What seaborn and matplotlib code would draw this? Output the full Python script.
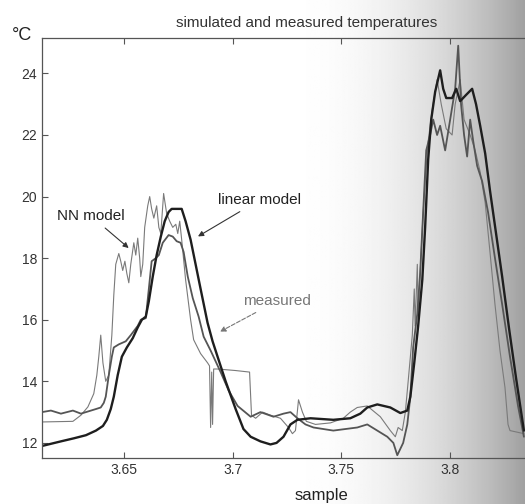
import numpy as np
import pandas as pd
import seaborn as sns
import matplotlib.pyplot as plt

# sample axis (x 10^4) and temperatures
linear_x = [3.6124, 3.6211, 3.6271, 3.6326, 3.6372, 3.6404, 3.6422, 3.6440, 3.6454, 3.6472,
            3.6491, 3.6514, 3.6541, 3.6564, 3.6583, 3.6601, 3.6615, 3.6633, 3.6651, 3.6670,
            3.6688, 3.6706, 3.6720, 3.6766, 3.6784, 3.6807, 3.6830, 3.6853, 3.6885, 3.6908,
            3.6931, 3.6968, 3.7014, 3.7050, 3.7083, 3.7128, 3.7174, 3.7202, 3.7234, 3.7266,
            3.7298, 3.7358, 3.7463, 3.7541, 3.7587, 3.7619, 3.7665, 3.7725, 3.7771, 3.7803,
            3.7817, 3.7835, 3.7853, 3.7872, 3.7885, 3.7899, 3.7913, 3.7931, 3.7954, 3.7968,
            3.7982, 3.8009, 3.8028, 3.8046, 3.8073, 3.8101, 3.8119, 3.8138, 3.8161, 3.8183,
            3.8211, 3.8239, 3.8271, 3.8303, 3.8339]
linear_y = [11.90, 12.05, 12.15, 12.25, 12.40, 12.55, 12.75, 13.10, 13.50, 14.20,
            14.80, 15.10, 15.40, 15.75, 16.00, 16.10, 16.60, 17.40, 18.10, 18.70,
            19.20, 19.50, 19.60, 19.60, 19.20, 18.60, 17.80, 17.00, 15.90, 15.30,
            14.80, 14.00, 13.10, 12.45, 12.20, 12.05, 11.95, 12.00, 12.20, 12.60,
            12.75, 12.80, 12.75, 12.80, 12.95, 13.15, 13.25, 13.15, 12.97, 13.05,
            13.50, 14.60, 15.80, 17.30, 19.00, 21.20, 22.50, 23.40, 24.10, 23.50,
            23.20, 23.20, 23.50, 23.10, 23.30, 23.50, 23.00, 22.30, 21.40, 20.20,
            18.80, 17.40, 15.70, 14.10, 12.40]

nn_x = [3.6124, 3.6266, 3.6303, 3.6335, 3.6362, 3.6376, 3.6385, 3.6394, 3.6404, 3.6417,
        3.6431, 3.6445, 3.6454, 3.6463, 3.6477, 3.6486, 3.6495, 3.6505, 3.6514, 3.6523,
        3.6532, 3.6546, 3.6555, 3.6564, 3.6573, 3.6578, 3.6587, 3.6596, 3.6610, 3.6619,
        3.6628, 3.6638, 3.6651, 3.6661, 3.6670, 3.6683, 3.6697, 3.6711, 3.6725, 3.6739,
        3.6748, 3.6757, 3.6766, 3.6784, 3.6807, 3.6821, 3.6853, 3.6885, 3.6894, 3.6899,
        3.6904, 3.6908, 3.6913, 3.6931, 3.7014, 3.7078, 3.7087, 3.7106, 3.7138, 3.7174,
        3.7220, 3.7257, 3.7275, 3.7289, 3.7303, 3.7321, 3.7339, 3.7381, 3.7450, 3.7509,
        3.7541, 3.7573, 3.7619, 3.7679, 3.7725, 3.7748, 3.7761, 3.7780, 3.7794, 3.7807,
        3.7826, 3.7835, 3.7839, 3.7849, 3.7853, 3.7862, 3.7876, 3.7890, 3.7899, 3.7917,
        3.7940, 3.7959, 3.7982, 3.8009, 3.8023, 3.8046, 3.8064, 3.8092, 3.8115, 3.8138,
        3.8161, 3.8183, 3.8206, 3.8229, 3.8252, 3.8266, 3.8275, 3.8339]
nn_y = [12.68, 12.70, 12.90, 13.17, 13.60, 14.20, 14.80, 15.50, 14.60, 14.00,
        14.20, 15.50, 16.80, 17.80, 18.15, 17.90, 17.60, 17.90, 17.50, 17.20,
        17.80, 18.50, 18.10, 18.65, 18.00, 17.40, 17.80, 19.00, 19.70, 20.00,
        19.60, 19.30, 19.70, 19.00, 18.80, 20.10, 19.45, 19.20, 19.00, 19.10,
        18.80, 19.20, 18.60, 17.30, 16.00, 15.35, 14.90, 14.60, 14.50, 12.50,
        14.30, 12.60, 14.40, 14.40, 14.35, 14.30, 12.90, 12.80, 13.00, 12.90,
        12.80, 12.50, 12.30, 12.40, 13.40, 13.00, 12.70, 12.60, 12.65, 12.80,
        13.00, 13.15, 13.20, 12.85, 12.40, 12.20, 12.50, 12.40, 13.00, 14.00,
        15.50, 17.00, 15.80, 17.80, 16.20, 17.50, 19.50, 21.00, 21.80, 22.80,
        23.80, 23.00, 22.20, 22.00, 23.00, 23.80, 22.50, 22.00, 21.50, 20.80,
        19.80, 18.20, 16.50, 15.00, 13.80, 12.60, 12.40, 12.30]

meas_x = [3.6124, 3.6165, 3.6211, 3.6266, 3.6303, 3.6349, 3.6372, 3.6394, 3.6408, 3.6417,
          3.6431, 3.6445, 3.6454, 3.6477, 3.6509, 3.6532, 3.6564, 3.6578, 3.6601, 3.6615,
          3.6628, 3.6647, 3.6661, 3.6679, 3.6706, 3.6725, 3.6743, 3.6761, 3.6775, 3.6794,
          3.6817, 3.6844, 3.6867, 3.6899, 3.6945, 3.6982, 3.7023, 3.7083, 3.7128, 3.7188,
          3.7234, 3.7266, 3.7298, 3.7335, 3.7372, 3.7463, 3.7573, 3.7619, 3.7665, 3.7711,
          3.7739, 3.7757, 3.7784, 3.7803, 3.7817, 3.7830, 3.7849, 3.7862, 3.7876, 3.7890,
          3.7908, 3.7922, 3.7940, 3.7954, 3.7977, 3.8000, 3.8023, 3.8037, 3.8050, 3.8064,
          3.8078, 3.8092, 3.8106, 3.8124, 3.8147, 3.8174, 3.8206, 3.8239, 3.8275, 3.8312,
          3.8339]
meas_y = [13.00, 13.05, 12.95, 13.05, 12.95, 13.05, 13.10, 13.15, 13.30, 13.50,
          14.20, 14.80, 15.10, 15.20, 15.30, 15.50, 15.80, 16.00, 16.05, 17.00,
          17.90, 18.00, 18.10, 18.50, 18.75, 18.70, 18.55, 18.50, 18.20, 17.40,
          16.70, 16.10, 15.45, 15.00, 14.30, 13.70, 13.20, 12.85, 13.00, 12.85,
          12.95, 13.00, 12.80, 12.60, 12.50, 12.40, 12.50, 12.60, 12.40, 12.20,
          12.00, 11.60, 12.00, 12.60, 13.50, 15.10, 16.20, 17.50, 19.50, 21.50,
          22.00, 22.50, 22.00, 22.30, 21.50, 22.50, 23.50, 24.90, 23.00, 22.00,
          21.30, 22.50, 21.80, 21.00, 20.50, 19.50, 18.00, 16.50, 14.80, 13.20,
          12.20]

x_ticks = [3.65, 3.7, 3.75, 3.8]
y_ticks = [12, 14, 16, 18, 20, 22, 24]

sns.set_theme(style="ticks")
plt.rcParams['font.family'] = ['Liberation Sans', 'DejaVu Sans']

fig = plt.figure(figsize=(5.25, 5.04), dpi=100)

# shadow of the book page towards the spine
bg = fig.add_axes([0, 0, 1, 1], zorder=0)
cols = np.linspace(0, 1, 400)
shade = 1 - 0.37 * np.clip((cols - 0.52) / 0.48, 0, None) ** 2.3
bg.imshow(np.tile(shade, (10, 1)), aspect='auto', cmap='gray', vmin=0, vmax=1,
          extent=[0, 1, 0, 1])
bg.axis('off')

ax = fig.add_axes([0.080, 0.0913, 0.92, 0.8333], zorder=1)
ax.set_facecolor('none')

df_lin = pd.DataFrame({"x": linear_x, "y": linear_y})
df_nn = pd.DataFrame({"x": nn_x, "y": nn_y})
df_meas = pd.DataFrame({"x": meas_x, "y": meas_y})

sns.lineplot(data=df_nn, x="x", y="y", ax=ax, color="#7a7a7a", lw=0.8, estimator=None, sort=False)
sns.lineplot(data=df_meas, x="x", y="y", ax=ax, color="#555555", lw=1.3, estimator=None, sort=False)
sns.lineplot(data=df_lin, x="x", y="y", ax=ax, color="#1e1e1e", lw=1.7, estimator=None, sort=False)

ax.set_xlim(3.6124, 3.8344)
ax.set_ylim(11.51, 25.15)
ax.set_xticks(x_ticks)
ax.set_xticklabels([f"{t:g}" for t in x_ticks])
ax.set_yticks(y_ticks)
ax.set_xlabel("")
ax.set_ylabel("")
ax.tick_params(direction="in", length=4, width=0.8, top=True, labelsize=10,
               labelcolor="#333333", color="#555555")
ax.spines["right"].set_visible(False)
for s in ["left", "bottom", "top"]:
    ax.spines[s].set_color("#555555")
    ax.spines[s].set_linewidth(0.9)

ax.annotate("NN model", xy=(3.6532, 18.27), xytext=(3.6349, 19.37),
            ha="center", va="center", fontsize=11, color="#222222",
            arrowprops=dict(arrowstyle="-|>", color="#333333", lw=0.8, mutation_scale=8))
ax.annotate("linear model", xy=(3.6830, 18.66), xytext=(3.7124, 19.89),
            ha="center", va="center", fontsize=11, color="#222222",
            arrowprops=dict(arrowstyle="-|>", color="#333333", lw=0.8, mutation_scale=8))
ax.annotate("measured", xy=(3.6931, 15.57), xytext=(3.7206, 16.61),
            ha="center", va="center", fontsize=11, color="#777777",
            arrowprops=dict(arrowstyle="-|>", color="#777777", lw=0.8, ls="--", mutation_scale=8))

fig.text(0.585, 0.955, "simulated and measured temperatures", ha="center", va="center",
         fontsize=11, color="#333333")
fig.text(0.042, 0.930, "°C", ha="center", va="center", fontsize=13, color="#222222")
fig.text(0.613, 0.016, "sample", ha="center", va="center", fontsize=12, color="#222222")

fig.savefig("out.png", dpi=100)
